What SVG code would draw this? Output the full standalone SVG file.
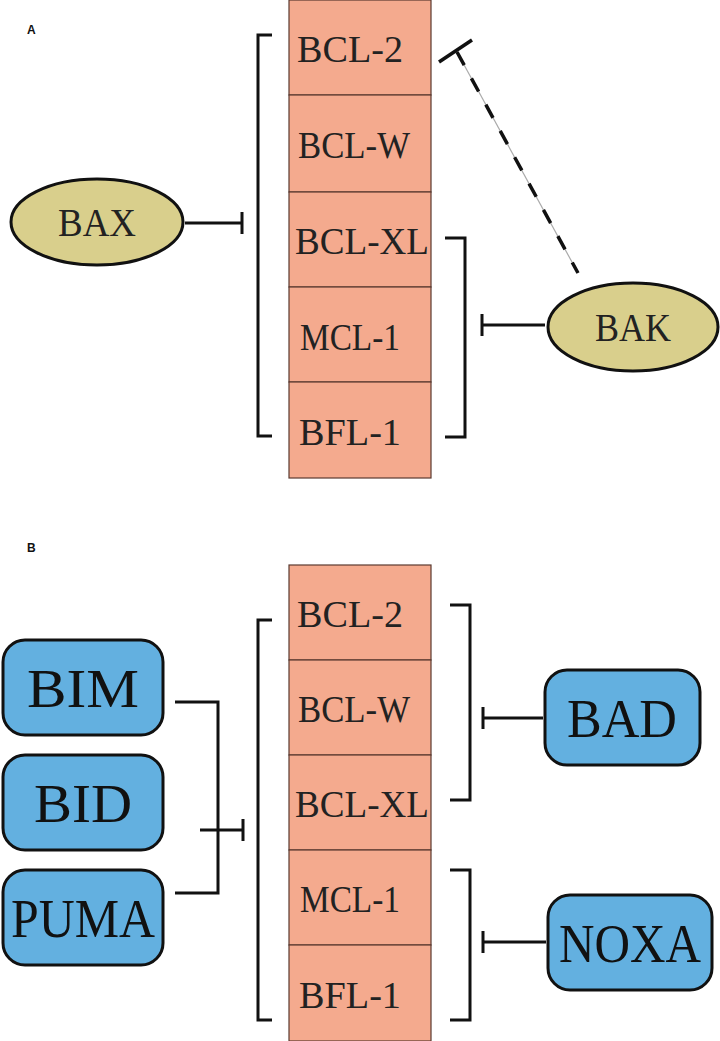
<svg xmlns="http://www.w3.org/2000/svg" width="720" height="1041" viewBox="0 0 720 1041">
<style>
.cell{fill:#f4aa8e;stroke:#5a3a30;stroke-width:1.2}
.ct{font-family:"Liberation Serif",serif;font-size:38px;fill:#222;text-anchor:middle}
.ln{stroke:#111;stroke-width:3;fill:none}
.ell{fill:#d9cf8c;stroke:#111;stroke-width:3}
.box{fill:#63b0e0;stroke:#111;stroke-width:3}
.bt{font-family:"Liberation Serif",serif;font-size:54px;fill:#111;text-anchor:middle}
.et{font-family:"Liberation Serif",serif;font-size:40px;fill:#222;text-anchor:middle}
.lab{font-family:"Liberation Sans",Arial,sans-serif;font-size:12px;font-weight:bold;fill:#111}
</style>
<rect width="720" height="1041" fill="#fff"/>
<text class="lab" x="27" y="34">A</text>
<text class="lab" x="27" y="552">B</text>
<g id="colA">
<rect class="cell" x="289" y="0" width="142" height="95"/><text class="ct" x="350" y="62" textLength="106" lengthAdjust="spacingAndGlyphs">BCL-2</text>
<rect class="cell" x="289" y="95" width="142" height="97"/><text class="ct" x="354" y="158" textLength="112" lengthAdjust="spacingAndGlyphs">BCL-W</text>
<rect class="cell" x="289" y="192" width="142" height="95"/><text class="ct" x="362" y="254" textLength="134" lengthAdjust="spacingAndGlyphs">BCL-XL</text>
<rect class="cell" x="289" y="287" width="142" height="95"/><text class="ct" x="350" y="350" textLength="100" lengthAdjust="spacingAndGlyphs">MCL-1</text>
<rect class="cell" x="289" y="382" width="142" height="96"/><text class="ct" x="350" y="445" textLength="102" lengthAdjust="spacingAndGlyphs">BFL-1</text>
</g>
<g id="BAX"><ellipse class="ell" cx="97" cy="222" rx="86" ry="43"/><text class="et" x="97" y="236" textLength="78" lengthAdjust="spacingAndGlyphs">BAX</text></g>
<g id="BAK"><ellipse class="ell" cx="633" cy="327" rx="85" ry="44"/><text class="et" x="633" y="341" textLength="76" lengthAdjust="spacingAndGlyphs">BAK</text></g>
<g id="colB">
<rect class="cell" x="289" y="565" width="142" height="95"/><text class="ct" x="350" y="627" textLength="106" lengthAdjust="spacingAndGlyphs">BCL-2</text>
<rect class="cell" x="289" y="660" width="142" height="95"/><text class="ct" x="354" y="722" textLength="112" lengthAdjust="spacingAndGlyphs">BCL-W</text>
<rect class="cell" x="289" y="755" width="142" height="95"/><text class="ct" x="362" y="817" textLength="134" lengthAdjust="spacingAndGlyphs">BCL-XL</text>
<rect class="cell" x="289" y="850" width="142" height="95"/><text class="ct" x="350" y="912" textLength="100" lengthAdjust="spacingAndGlyphs">MCL-1</text>
<rect class="cell" x="289" y="945" width="142" height="96"/><text class="ct" x="350" y="1008" textLength="102" lengthAdjust="spacingAndGlyphs">BFL-1</text>
</g>
<g id="BIM"><rect class="box" x="3" y="640" width="160" height="95" rx="22"/><text class="bt" x="83" y="707" textLength="112" lengthAdjust="spacingAndGlyphs">BIM</text></g>
<g id="BID"><rect class="box" x="3" y="755" width="160" height="95" rx="22"/><text class="bt" x="83" y="822" textLength="98" lengthAdjust="spacingAndGlyphs">BID</text></g>
<g id="PUMA"><rect class="box" x="3" y="870" width="160" height="95" rx="22"/><text class="bt" x="83" y="937" textLength="144" lengthAdjust="spacingAndGlyphs">PUMA</text></g>
<g id="BAD"><rect class="box" x="545" y="670" width="155" height="95" rx="22"/><text class="bt" x="622" y="737" textLength="110" lengthAdjust="spacingAndGlyphs">BAD</text></g>
<g id="NOXA"><rect class="box" x="548" y="895" width="164" height="95" rx="22"/><text class="bt" x="630" y="962" textLength="142" lengthAdjust="spacingAndGlyphs">NOXA</text></g>
<g id="connectors">
<path class="ln" d="M272,35 H258 V436 H272"/>
<path class="ln" d="M185,223 H242 M242,212 V234"/>
<path class="ln" d="M445,238 H465 V437 H445"/>
<path class="ln" d="M545,325 H482 M482,314 V336"/>
<line x1="457" y1="52" x2="578" y2="273" stroke="#aaa" stroke-width="1.2"/>
<line x1="457" y1="52" x2="578" y2="273" stroke="#111" stroke-width="3.5" stroke-dasharray="15,15"/>
<line x1="439" y1="62" x2="472" y2="40" stroke="#111" stroke-width="3.5"/>
<path class="ln" d="M272,620 H258 V1020 H272"/>
<path class="ln" d="M200,830 H243 M243,819 V841"/>
<path class="ln" d="M175,702 H218 V893 H175"/>
<path class="ln" d="M450,605 H470 V800 H450"/>
<path class="ln" d="M543,718 H483 M483,707 V729"/>
<path class="ln" d="M450,870 H470 V1020 H450"/>
<path class="ln" d="M546,942 H483 M483,931 V953"/>
</g>
</svg>
